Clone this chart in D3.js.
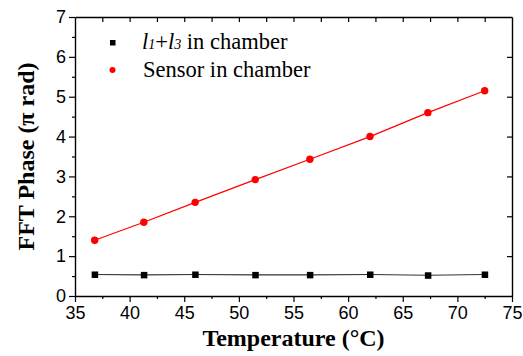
<!DOCTYPE html>
<html>
<head>
<meta charset="utf-8">
<script src="https://cdn.jsdelivr.net/npm/d3@7"></script>
<style>
  body { margin: 0; background: #fff; }
  svg { display: block; }
</style>
</head>
<body>
<script>
// data
const temps = [36.8, 41.3, 46.0, 51.5, 56.5, 62.0, 67.3, 72.5];
const sensorPhase = [1.40, 1.85, 2.35, 2.92, 3.43, 4.00, 4.60, 5.15];
const l1l3Phase = [0.54, 0.53, 0.54, 0.53, 0.53, 0.54, 0.52, 0.54];
const xTicks = [35, 40, 45, 50, 55, 60, 65, 70, 75];
const yTicks = [0, 1, 2, 3, 4, 5, 6, 7];

const width = 523, height = 356;
const margin = { top: 17, right: 11, bottom: 60, left: 75 };

const svg = d3.select("body").append("svg")
    .attr("width", width)
    .attr("height", height);

const x = d3.scaleLinear().domain([35, 75]).range([margin.left, width - margin.right]);
const y = d3.scaleLinear().domain([0, 7]).range([height - margin.bottom, margin.top]);

const tickFont = "'Liberation Sans', Arial, sans-serif";
const serif = "'Liberation Serif', 'Times New Roman', serif";

// bottom axis: outward ticks, minor ones shorter
const xMinor = d3.range(37.5, 75, 5);
svg.append("g")
    .attr("transform", `translate(0,${y(0)})`)
    .call(d3.axisBottom(x).tickValues(xMinor).tickSize(3).tickFormat(""))
    .call(g => g.select(".domain").remove());
svg.append("g")
    .attr("transform", `translate(0,${y(0)})`)
    .call(d3.axisBottom(x).tickValues(xTicks).tickSize(6).tickSizeOuter(0).tickPadding(4).tickFormat(d3.format("d")))
    .call(g => g.selectAll("text").attr("font-family", tickFont).attr("font-size", 18).attr("fill", "#000"));

// left axis
const yMinor = d3.range(0.5, 7, 1);
svg.append("g")
    .attr("transform", `translate(${x(35)},0)`)
    .call(d3.axisLeft(y).tickValues(yMinor).tickSize(3).tickFormat(""))
    .call(g => g.select(".domain").remove());
svg.append("g")
    .attr("transform", `translate(${x(35)},0)`)
    .call(d3.axisLeft(y).tickValues(yTicks).tickSize(6).tickSizeOuter(0).tickPadding(3).tickFormat(d3.format("d")))
    .call(g => g.selectAll("text").attr("font-family", tickFont).attr("font-size", 18).attr("fill", "#000"));

// top and right axes with inward ticks
svg.append("g")
    .attr("transform", `translate(0,${y(7)})`)
    .call(d3.axisBottom(x).tickValues(d3.range(37.5, 75, 2.5)).tickSize(5).tickSizeOuter(0).tickFormat(""));
svg.append("g")
    .attr("transform", `translate(${x(75)},0)`)
    .call(d3.axisLeft(y).tickValues(d3.range(1, 7, 1)).tickSize(5).tickSizeOuter(0).tickFormat(""));

svg.selectAll(".domain").attr("stroke-width", 1.4);
svg.selectAll(".tick line").attr("stroke-width", 1.2);

// series
const line = d3.line().x(d => x(d[0])).y(d => y(d[1]));
const black = d3.zip(temps, l1l3Phase);
const red = d3.zip(temps, sensorPhase);

svg.append("path").datum(black)
    .attr("d", line).attr("fill", "none").attr("stroke", "#333").attr("stroke-width", 1.2);
svg.append("path").datum(red)
    .attr("d", line).attr("fill", "none").attr("stroke", "#f00").attr("stroke-width", 1.2);

svg.append("g").selectAll("rect").data(black).join("rect")
    .attr("x", d => x(d[0]) - 3).attr("y", d => y(d[1]) - 3)
    .attr("width", 6.5).attr("height", 6.5).attr("fill", "#000");
svg.append("g").selectAll("circle").data(red).join("circle")
    .attr("cx", d => x(d[0])).attr("cy", d => y(d[1])).attr("r", 3.7).attr("fill", "#f00");

// legend
const legend = svg.append("g").attr("font-family", serif).attr("font-size", 22.5);
legend.append("rect").attr("x", 110).attr("y", 40).attr("width", 5.5).attr("height", 5.5).attr("fill", "#000");
const t1 = legend.append("text").attr("x", 142).attr("y", 49);
t1.append("tspan").attr("font-style", "italic").text("l");
t1.append("tspan").attr("font-style", "italic").attr("font-size", 14).text("1");
t1.append("tspan").text("+");
t1.append("tspan").attr("font-style", "italic").text("l");
t1.append("tspan").attr("font-style", "italic").attr("font-size", 14).text("3");
t1.append("tspan").text(" in chamber");
legend.append("circle").attr("cx", 112.5).attr("cy", 70).attr("r", 3).attr("fill", "#f00");
legend.append("text").attr("x", 143).attr("y", 77).text("Sensor in chamber");

// axis titles
svg.append("text")
    .attr("x", (x(35) + x(75)) / 2).attr("y", 346)
    .attr("text-anchor", "middle")
    .attr("font-family", serif).attr("font-weight", "bold").attr("font-size", 24)
    .text("Temperature (°C)");
svg.append("text")
    .attr("transform", `translate(34,${(y(0) + y(7)) / 2}) rotate(-90)`)
    .attr("text-anchor", "middle")
    .attr("font-family", serif).attr("font-weight", "bold").attr("font-size", 24)
    .text("FFT Phase (π rad)");
</script>
</body>
</html>
